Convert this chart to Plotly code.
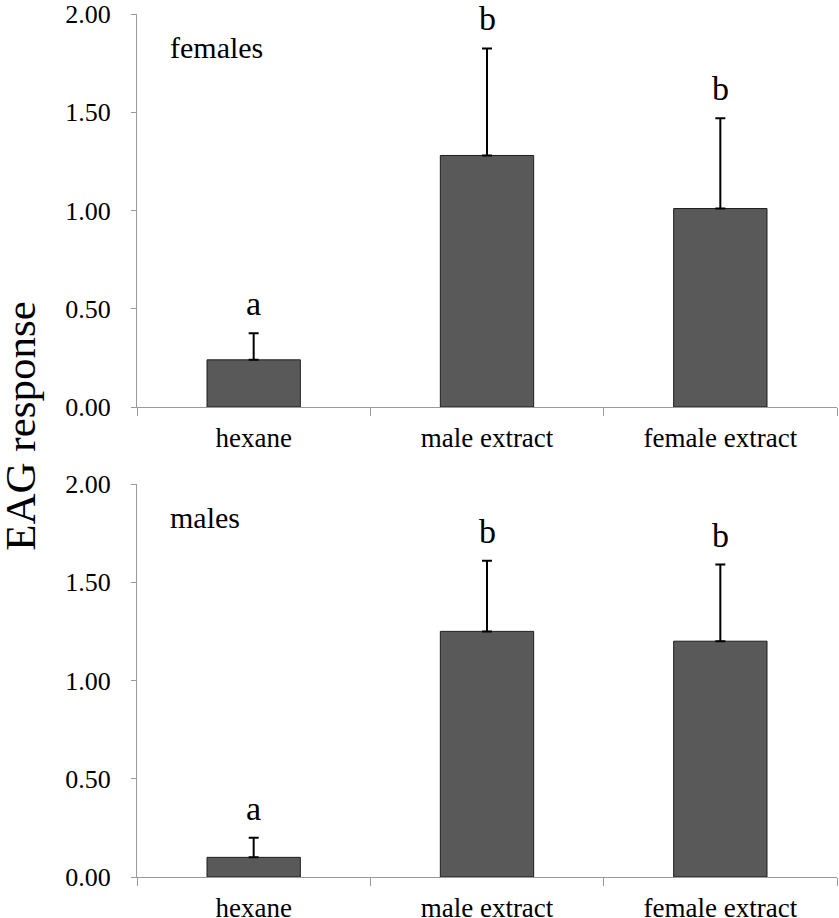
import plotly.graph_objects as go

categories = ["hexane", "male extract", "female extract"]
females_mean = [0.24, 1.28, 1.01]
females_err = [0.135, 0.545, 0.46]
females_letters = ["a", "b", "b"]
males_mean = [0.10, 1.25, 1.20]
males_err = [0.10, 0.36, 0.39]
males_letters = ["a", "b", "b"]
y_ticks = [0, 0.5, 1.0, 1.5, 2.0]

FONT = "Liberation Serif, Times New Roman, serif"
AXIS_COLOR = "#9a9a9a"
BAR_COLOR = "#595959"

fig = go.Figure()

panels = [
    (females_mean, females_err, females_letters, "x", "y", "females"),
    (males_mean, males_err, males_letters, "x2", "y2", "males"),
]

for mean, err, letters, xa, ya, label in panels:
    fig.add_trace(go.Bar(
        x=categories, y=mean, xaxis=xa, yaxis=ya,
        marker=dict(color=BAR_COLOR, line=dict(color="#1e1e1e", width=1)),
        error_y=dict(type="data", array=err, arrayminus=[0] * len(err),
                     symmetric=False, color="black", thickness=2, width=5),
        showlegend=False, hoverinfo="skip",
    ))
    for c, m, e, l in zip(categories, mean, err, letters):
        fig.add_annotation(x=c, y=m + e + 0.15, xref=xa, yref=ya, text=l,
                           showarrow=False, yanchor="middle",
                           font=dict(family=FONT, size=34, color="black"))
    fig.add_annotation(x=0.044, y=1.83, xref=xa + " domain", yref=ya,
                       text=label, showarrow=False, xanchor="left",
                       yanchor="middle",
                       font=dict(family=FONT, size=30, color="black"))

fig.add_annotation(x=-0.166, y=0.5226, xref="paper", yref="paper",
                   text="EAG response", textangle=-90, showarrow=False,
                   xanchor="center", yanchor="middle",
                   font=dict(family=FONT, size=43, color="black"))

xcommon = dict(type="category", range=[-0.5, 2.5], showline=True,
               linecolor=AXIS_COLOR, linewidth=1, ticks="outside",
               tickson="boundaries", ticklen=8, tickcolor=AXIS_COLOR,
               tickwidth=1, showgrid=False, zeroline=False,
               ticklabelstandoff=7,
               tickfont=dict(family=FONT, size=27, color="black"),
               automargin=False, fixedrange=True)
ycommon = dict(range=[0, 2], tickvals=y_ticks, tickformat=".2f",
               showline=True, linecolor=AXIS_COLOR, linewidth=1,
               ticks="outside", ticklen=5, tickcolor=AXIS_COLOR, tickwidth=1,
               showgrid=False, zeroline=False, ticklabelstandoff=15,
               ticklabeloverflow="allow",
               tickfont=dict(family=FONT, size=26, color="black"),
               automargin=False, fixedrange=True)

top_dom = [(877 - 407) / 863, 1.0]
bot_dom = [0.0, (877 - 484) / 863]

fig.update_layout(
    width=839, height=918,
    margin=dict(l=137, r=2, t=14, b=41),
    paper_bgcolor="white", plot_bgcolor="white",
    bargap=0.6,
    xaxis=dict(**xcommon, domain=[0, 1], anchor="y"),
    yaxis=dict(**ycommon, domain=top_dom, anchor="x"),
    xaxis2=dict(**xcommon, domain=[0, 1], anchor="y2"),
    yaxis2=dict(**ycommon, domain=bot_dom, anchor="x2"),
)

fig.write_html("out.html",
               config={"displayModeBar": False, "staticPlot": True},
               post_script="document.body.style.margin='0';"
                           "document.body.style.overflow='hidden';")
